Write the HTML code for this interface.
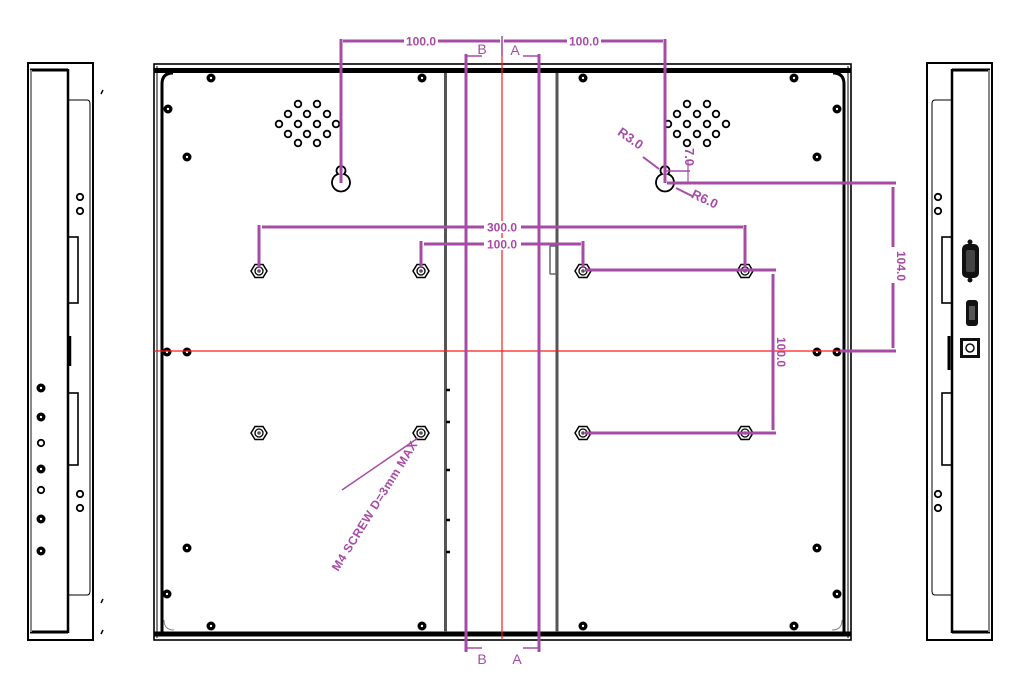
<!DOCTYPE html>
<html><head><meta charset="utf-8"><style>html,body{margin:0;padding:0;background:#fff}svg{display:block}</style></head>
<body>
<svg width="1013" height="680" viewBox="0 0 1013 680" xmlns="http://www.w3.org/2000/svg" font-family="Liberation Sans, sans-serif">
<defs>
<g id="dot"><circle r="4.5" fill="#000"/><circle r="1.2" fill="#fff"/></g>
<g id="ring"><circle r="3.2" fill="none" stroke="#000" stroke-width="1.8"/></g>
<g id="nut"><polygon points="-8,0 -4,-6.5 4,-6.5 8,0 4,6.5 -4,6.5" fill="#fff" stroke="#000" stroke-width="1.5"/><circle r="4" fill="none" stroke="#000" stroke-width="1.3"/><circle r="1.8" fill="#555"/></g>
</defs>
<!-- LEFT SIDE VIEW -->
<g fill="none" stroke="#000">
<rect x="28" y="63" width="65" height="577" stroke-width="2"/>
<line x1="30" y1="70" x2="68" y2="70" stroke-width="3"/>
<line x1="30" y1="632" x2="68" y2="632" stroke-width="3"/>
<line x1="31" y1="70" x2="31" y2="632" stroke="#888" stroke-width="2"/>
<line x1="68" y1="69" x2="68" y2="633" stroke-width="2.5"/>
<path d="M68 100 H87 Q90 100 90 104 V591 Q90 595 87 595 H68" stroke-width="1"/>
<rect x="68" y="237" width="10" height="66" stroke-width="1.6"/>
<rect x="68" y="393" width="10" height="72" stroke-width="1.6"/>
<line x1="70" y1="336" x2="70" y2="366" stroke-width="2.5"/>
</g>
<g>
<use href="#ring" x="80" y="197"/><use href="#ring" x="80" y="211"/>
<use href="#ring" x="80" y="494"/><use href="#ring" x="80" y="508"/>
<use href="#dot" x="41" y="388"/><use href="#dot" x="41" y="417"/><use href="#ring" x="41" y="443"/>
<use href="#dot" x="41" y="469"/><use href="#ring" x="41" y="490"/><use href="#dot" x="41" y="519"/><use href="#dot" x="41" y="551"/>
</g>
<g stroke="#000" stroke-width="1.5"><line x1="101" y1="94" x2="103" y2="90"/><line x1="101" y1="603" x2="103" y2="599"/><line x1="101" y1="634" x2="103" y2="630"/></g>

<!-- RIGHT SIDE VIEW -->
<g fill="none" stroke="#000">
<rect x="927" y="63" width="65" height="577" stroke-width="2"/>
<line x1="952" y1="70" x2="990" y2="70" stroke-width="3"/>
<line x1="952" y1="632" x2="990" y2="632" stroke-width="3"/>
<line x1="989" y1="70" x2="989" y2="632" stroke="#888" stroke-width="2"/>
<line x1="952" y1="69" x2="952" y2="633" stroke-width="2.5"/>
<path d="M952 100 H935 Q932 100 932 104 V591 Q932 595 935 595 H952" stroke-width="1"/>
<rect x="942" y="237" width="10" height="66" stroke-width="1.6"/>
<rect x="942" y="393" width="10" height="72" stroke-width="1.6"/>
<line x1="949" y1="336" x2="949" y2="370" stroke-width="3"/>
</g>
<use href="#ring" x="938" y="197"/><use href="#ring" x="938" y="211"/>
<use href="#ring" x="938" y="494"/><use href="#ring" x="938" y="508"/>
<rect x="962" y="244" width="17" height="34" rx="5" fill="#111"/>
<rect x="966" y="250" width="9" height="22" rx="2" fill="#444"/>
<circle cx="970" cy="242" r="2.5" fill="#111"/><circle cx="970" cy="280" r="2.5" fill="#111"/>
<rect x="966" y="300" width="12" height="26" rx="3" fill="#111"/>
<rect x="969" y="306" width="6" height="14" fill="#555"/>
<rect x="960" y="338" width="20" height="20" fill="#111"/>
<rect x="963" y="341" width="14" height="14" fill="#fff"/>
<circle cx="970" cy="348" r="4" fill="none" stroke="#111" stroke-width="1.5"/>

<!-- MAIN VIEW -->
<g fill="none" stroke="#000">
<rect x="154" y="64" width="697" height="576" stroke-width="1.6"/>
<line x1="154" y1="70.5" x2="851" y2="70.5" stroke-width="5"/>
<line x1="154" y1="634" x2="851" y2="634" stroke-width="5"/>
<line x1="157" y1="66" x2="157" y2="638" stroke-width="1"/>
<line x1="848" y1="66" x2="848" y2="638" stroke-width="1"/>
<path d="M162 632 V84 Q162 73 173 73" stroke-width="3"/>
<path d="M844 632 V84 Q844 73 833 73" stroke-width="3"/>
<path d="M164 620 Q164 630 174 630" stroke="#888" stroke-width="1"/>
<path d="M842 620 Q842 630 832 630" stroke="#888" stroke-width="1"/>
<line x1="445.5" y1="73" x2="445.5" y2="632" stroke="#555" stroke-width="3"/>
<line x1="557" y1="73" x2="557" y2="632" stroke="#555" stroke-width="3"/>
<rect x="550" y="246" width="6" height="28" rx="1" stroke="#666" stroke-width="1.5"/>
</g>
<g stroke="#000" stroke-width="2.5"><line x1="446" y1="390" x2="450" y2="390"/><line x1="446" y1="422" x2="450" y2="422"/><line x1="446" y1="470" x2="450" y2="470"/><line x1="446" y1="520" x2="450" y2="520"/><line x1="446" y1="552" x2="450" y2="552"/></g>

<g>
<use href="#dot" x="211" y="78"/><use href="#dot" x="422" y="78"/><use href="#dot" x="168" y="109"/><use href="#dot" x="187" y="157"/>
<use href="#dot" x="583" y="78"/><use href="#dot" x="794" y="78"/><use href="#dot" x="837" y="109"/><use href="#dot" x="817" y="157"/>
<use href="#dot" x="167" y="352"/><use href="#dot" x="187" y="352"/><use href="#dot" x="817" y="352"/><use href="#dot" x="837" y="352"/>
<use href="#dot" x="187" y="548"/><use href="#dot" x="167" y="594"/><use href="#dot" x="211" y="626"/><use href="#dot" x="422" y="626"/>
<use href="#dot" x="817" y="548"/><use href="#dot" x="837" y="594"/><use href="#dot" x="794" y="626"/><use href="#dot" x="583" y="626"/>
</g>
<g fill="none" stroke="#000" stroke-width="1.8">
<circle cx="298" cy="104" r="3.3"/><circle cx="317" cy="104" r="3.3"/>
<circle cx="288" cy="114" r="3.3"/><circle cx="307" cy="114" r="3.3"/><circle cx="327" cy="114" r="3.3"/>
<circle cx="279" cy="124" r="3.3"/><circle cx="298" cy="124" r="3.3"/><circle cx="317" cy="124" r="3.3"/><circle cx="336" cy="124" r="3.3"/>
<circle cx="288" cy="134" r="3.3"/><circle cx="307" cy="134" r="3.3"/><circle cx="327" cy="134" r="3.3"/>
<circle cx="298" cy="143" r="3.3"/><circle cx="317" cy="143" r="3.3"/>
<circle cx="687" cy="104" r="3.3"/><circle cx="707" cy="104" r="3.3"/>
<circle cx="677" cy="114" r="3.3"/><circle cx="697" cy="114" r="3.3"/><circle cx="716" cy="114" r="3.3"/>
<circle cx="668" cy="124" r="3.3"/><circle cx="687" cy="124" r="3.3"/><circle cx="707" cy="124" r="3.3"/><circle cx="726" cy="124" r="3.3"/>
<circle cx="677" cy="134" r="3.3"/><circle cx="697" cy="134" r="3.3"/><circle cx="716" cy="134" r="3.3"/>
<circle cx="687" cy="143" r="3.3"/><circle cx="707" cy="143" r="3.3"/>
<path d="M338 174 A4.5 4.5 0 1 1 344 174 A9 9 0 1 1 338 174 Z" stroke-width="1.8"/>
<path d="M662 174 A4.5 4.5 0 1 1 668 174 A9 9 0 1 1 662 174 Z" stroke-width="1.8"/>
</g>
<use href="#nut" x="259" y="271"/><use href="#nut" x="421" y="271"/><use href="#nut" x="583" y="271"/><use href="#nut" x="745" y="271"/>
<use href="#nut" x="259" y="433"/><use href="#nut" x="421" y="433"/><use href="#nut" x="583" y="433"/><use href="#nut" x="745" y="433"/>

<g stroke="#ff1a1a" stroke-width="1.2">
<line x1="502" y1="40" x2="502" y2="640"/>
<line x1="154" y1="351" x2="851" y2="351"/>
</g>

<g stroke="#a64ca6" stroke-width="3" fill="none">
<line x1="466" y1="54" x2="466" y2="652"/>
<line x1="539" y1="54" x2="539" y2="652"/>
<line x1="466" y1="56" x2="482" y2="56" stroke-width="1.5"/>
<line x1="523" y1="56" x2="539" y2="56" stroke-width="1.5"/>
<line x1="466" y1="648" x2="482" y2="648" stroke-width="1.5"/>
<line x1="523" y1="648" x2="539" y2="648" stroke-width="1.5"/>
<line x1="341" y1="39" x2="341" y2="183"/>
<line x1="665" y1="39" x2="665" y2="183"/>
<line x1="502" y1="36" x2="502" y2="56" stroke-width="1.5"/>
<line x1="343" y1="41" x2="500" y2="41"/>
<line x1="504" y1="41" x2="663" y2="41"/>
<line x1="259" y1="225" x2="259" y2="268"/>
<line x1="745" y1="225" x2="745" y2="268"/>
<line x1="262" y1="227" x2="743" y2="227"/>
<line x1="421" y1="241" x2="421" y2="268"/>
<line x1="583" y1="241" x2="583" y2="268"/>
<line x1="424" y1="244" x2="581" y2="244"/>
<line x1="585" y1="270" x2="776" y2="270"/>
<line x1="585" y1="433" x2="776" y2="433"/>
<line x1="773" y1="274" x2="773" y2="430"/>
<line x1="667" y1="183" x2="896" y2="183"/>
<line x1="840" y1="351" x2="896" y2="351"/>
<line x1="893" y1="187" x2="893" y2="348"/>
<line x1="665" y1="171" x2="690" y2="171" stroke-width="1.5"/>
<line x1="688" y1="160" x2="688" y2="182" stroke-width="1.2"/>
<line x1="643" y1="157" x2="659" y2="169" stroke-width="2"/>
<line x1="676" y1="188" x2="692" y2="196" stroke-width="2"/>
<line x1="342" y1="490" x2="418" y2="438" stroke-width="1.5"/>
</g>
<g fill="#a64ca6" font-weight="bold" font-size="12" text-anchor="middle">
<rect x="404" y="35" width="34" height="12" fill="#fff"/><text x="421" y="45.5">100.0</text>
<rect x="567" y="35" width="34" height="12" fill="#fff"/><text x="584" y="45.5">100.0</text>
<rect x="484" y="221" width="37" height="12" fill="#fff"/><text x="502" y="231.5">300.0</text>
<rect x="484" y="238" width="37" height="12" fill="#fff"/><text x="502" y="248.5">100.0</text>
<text transform="translate(777,352) rotate(90)">100.0</text>
<rect x="887" y="247" width="12" height="36" fill="#fff"/>
<text transform="translate(897,266) rotate(90)">104.0</text>
<text transform="translate(628,142) rotate(35)" font-size="13">R3.0</text>
<text transform="translate(703,203) rotate(25)" font-size="13">R6.0</text>
<text transform="translate(685,157) rotate(90)" font-size="13">7.0</text>
<text transform="translate(378,508) rotate(-58)" font-size="12" letter-spacing="0.5">M4 SCREW D=3mm MAX</text>
</g>
<g fill="#a64ca6" font-size="14" text-anchor="middle">
<text x="482" y="54">B</text><text x="515" y="55">A</text>
<text x="482" y="664">B</text><text x="517" y="664">A</text>
</g>
</svg>
</body></html>
